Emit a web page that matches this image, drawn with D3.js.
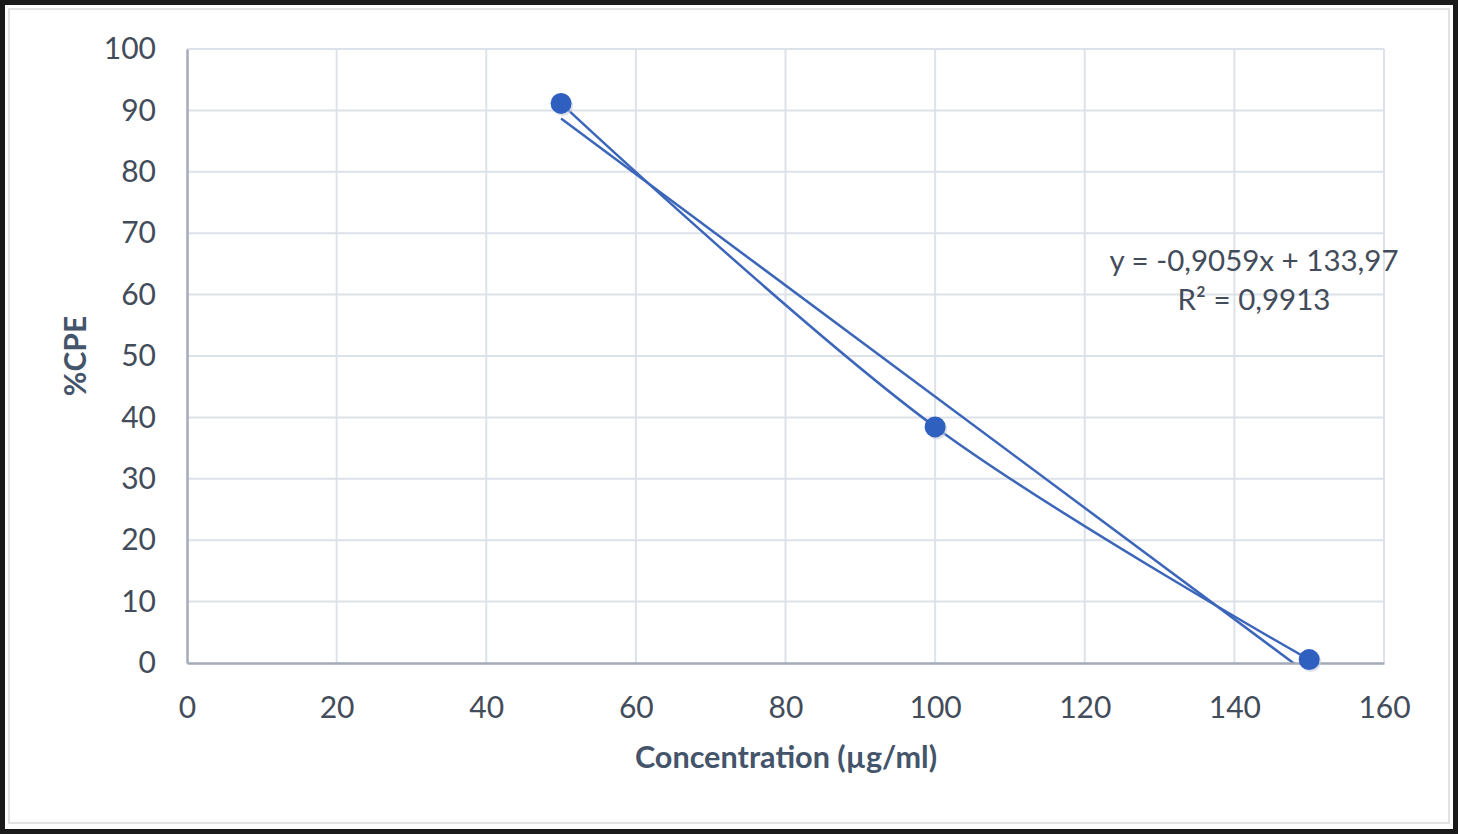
<!DOCTYPE html>
<html>
<head>
<meta charset="utf-8">
<script src="https://cdn.jsdelivr.net/npm/d3@7"></script>
<style>
  body { margin: 0; background: #fff; }
  text { font-family: Lato, "Open Sans", sans-serif; }
</style>
</head>
<body>
<svg width="1459" height="834"></svg>
<script>
// values
var concentrations = [50, 100, 150];
var cpeValues = [91.14, 38.45, 0.55];
var xTicks = [0, 20, 40, 60, 80, 100, 120, 140, 160];
var yTicks = [0, 10, 20, 30, 40, 50, 60, 70, 80, 90, 100];
var equationText = "y = -0,9059x + 133,97";
var r2Text = "R² = 0,9913";

var svg = d3.select("svg"),
    plotLeft = 187, plotRight = 1384, plotTop = 49, plotBottom = 663;

var xScale = d3.scaleLinear().domain([0, 160]).range([plotLeft, plotRight]),
    yScale = d3.scaleLinear().domain([0, 100]).range([plotBottom, plotTop]);

svg.append("defs").append("clipPath").attr("id", "plotclip")
   .append("rect").attr("x", plotLeft).attr("y", plotTop)
   .attr("width", plotRight - plotLeft).attr("height", plotBottom - plotTop);

// frame
svg.append("rect").attr("x", 2.5).attr("y", 2.5).attr("width", 1453).attr("height", 829)
   .attr("fill", "#fff").attr("stroke", "#1a1a1a").attr("stroke-width", 5);
svg.append("rect").attr("x", 9).attr("y", 9).attr("width", 1440).attr("height", 814)
   .attr("fill", "none").attr("stroke", "#e3e3e3").attr("stroke-width", 2);

// grid
svg.append("g").selectAll("line").data(yTicks.slice(1)).enter().append("line")
   .attr("x1", plotLeft).attr("x2", plotRight)
   .attr("y1", function(d) { return yScale(d); }).attr("y2", function(d) { return yScale(d); })
   .attr("stroke", "#dde2ea").attr("stroke-width", 2);
svg.append("g").selectAll("line").data(xTicks.slice(1)).enter().append("line")
   .attr("y1", plotTop).attr("y2", plotBottom)
   .attr("x1", function(d) { return xScale(d); }).attr("x2", function(d) { return xScale(d); })
   .attr("stroke", "#dde2ea").attr("stroke-width", 2);

// linear trendline from least squares, clipped to the plot area
var mx = d3.mean(concentrations), my = d3.mean(cpeValues),
    sxy = d3.sum(concentrations, function(x, i) { return (x - mx) * (cpeValues[i] - my); }),
    sxx = d3.sum(concentrations, function(x) { return (x - mx) * (x - mx); }),
    slope = sxy / sxx, icpt = my - slope * mx;
var xr = d3.extent(concentrations);
svg.append("line").attr("clip-path", "url(#plotclip)")
   .attr("x1", xScale(xr[0])).attr("y1", yScale(slope * xr[0] + icpt))
   .attr("x2", xScale(xr[1])).attr("y2", yScale(slope * xr[1] + icpt))
   .attr("stroke", "#3c66b9").attr("stroke-width", 2.5);

// axes
var gx = svg.append("g").attr("transform", "translate(0," + plotBottom + ")")
   .call(d3.axisBottom(xScale).tickValues(xTicks).tickSize(0).tickPadding(44));
var gy = svg.append("g").attr("transform", "translate(" + plotLeft + ",0)")
   .call(d3.axisLeft(yScale).tickValues(yTicks).tickSize(0).tickPadding(31));
[gx, gy].forEach(function(g) {
  g.select(".domain").attr("stroke", "#a3abb8").attr("stroke-width", 2.5);
  g.selectAll("text").attr("font-size", 30).attr("fill", "#434c5a");
});
gx.selectAll("text").attr("dy", "0.36em");

// axis titles
svg.append("text").attr("transform", "translate(786,768) scale(1.02,1)")
   .attr("text-anchor", "middle").attr("font-size", 30).attr("font-weight", "bold")
   .attr("fill", "#44546a").text("Concentration (µg/ml)");
svg.append("text").attr("transform", "translate(86,356) rotate(-90)")
   .attr("text-anchor", "middle").attr("font-size", 30).attr("font-weight", "bold")
   .attr("fill", "#44546a").text("%CPE");

// smoothed series
var pts = concentrations.map(function(x, i) { return [x, cpeValues[i]]; });
svg.append("path").datum(pts)
   .attr("fill", "none").attr("stroke", "#3c66b9").attr("stroke-width", 2.5)
   .attr("d", d3.line().curve(d3.curveCatmullRom.alpha(0.5))
     .x(function(d) { return xScale(d[0]); }).y(function(d) { return yScale(d[1]); }));

// markers
svg.append("g").selectAll("circle").data(pts).enter().append("circle")
   .attr("cx", function(d) { return xScale(d[0]) + 1.5; }).attr("cy", function(d) { return yScale(d[1]) + 2; })
   .attr("r", 10.5).attr("fill", "#c7cfdc").attr("opacity", 0.6);
svg.append("g").selectAll("circle").data(pts).enter().append("circle")
   .attr("cx", function(d) { return xScale(d[0]); }).attr("cy", function(d) { return yScale(d[1]); })
   .attr("r", 10.5).attr("fill", "#2f5fbf");

// equation label
var lab = svg.append("text").attr("text-anchor", "middle").attr("font-size", 29.5).attr("fill", "#434c5a")
   .attr("transform", "translate(1254,0)");
lab.append("tspan").attr("x", 0).attr("y", 271).text(equationText);
lab.append("tspan").attr("x", 0).attr("y", 310).text(r2Text);
</script>
</body>
</html>
